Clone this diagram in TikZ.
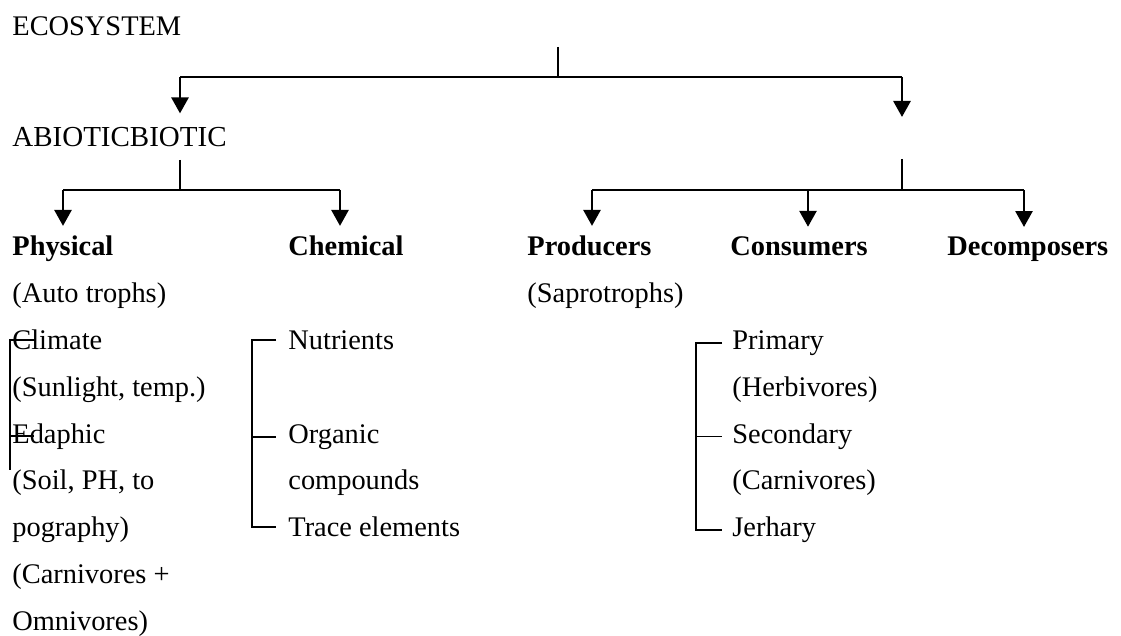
\documentclass[tikz,border=0pt]{standalone}
\usepackage{fontspec}
\setmainfont{Liberation Serif}
\usetikzlibrary{arrows.meta}
\tikzset{
  txt/.style={anchor=base west, inner sep=0pt, font=\fontsize{14.2}{17}\selectfont},
  head/.style={txt, font=\fontsize{14.2}{17}\selectfont\bfseries},
  bar/.style={line width=0.9pt},
  arr/.style={line width=1.4pt, -{Triangle[width=8.5pt,length=8pt]}},
}
\begin{document}
\begin{tikzpicture}[x=0.5pt,y=-0.5pt]
        \useasboundingbox (0,0) rectangle (1121,636);
        \node[txt] (eco) at (12,36) {ECOSYSTEM};
        \node[txt,font=\fontsize{14.5}{17}\selectfont] (abio) at (12,147) {ABIOTICBIOTIC};
        % first split
        \coordinate (ecostem) at (558,47);
        \coordinate (ecobar) at (558,77);
        \coordinate (abiarr) at (180,77);
        \coordinate (bioarr) at (902,77);
        \coordinate (biotip) at (902,117);
        \draw[bar] (ecostem) -- (ecobar);
        \draw[bar] (abiarr) -- (bioarr);
        \draw[arr, shorten >=7pt] (abiarr) -- (abiarr |- abio.north);
        \draw[arr] (bioarr) -- (biotip);
        % headings
        \node[head] (phys) at (12,256) {Physical};
        \node[head] (chem) at (288,256) {Chemical};
        \node[head] (prod) at (527,256) {Producers};
        \node[head] (cons) at (730,256) {Consumers};
        \node[head] (dec) at (947,256) {Decomposers};
        % abiotic split
        \coordinate (abstem) at (180,160);
        \coordinate (abbar) at (180,190);
        \coordinate (physbar) at (63,190);
        \coordinate (chembar) at (340,190);
        \draw[bar] (abstem) -- (abbar);
        \draw[bar] (physbar) -- (chembar);
        \foreach \n in {phys,chem}
            \draw[arr, shorten >=5pt] (\n bar) -- (\n bar |- \n.north);
        % biotic split
        \coordinate (biostem) at (902,159);
        \coordinate (biobar) at (902,190);
        \coordinate (prodbar) at (592,190);
        \coordinate (consbar) at (808,190);
        \coordinate (decbar) at (1024,190);
        \draw[bar] (biostem) -- (biobar);
        \draw[bar] (prodbar) -- (decbar);
        \foreach \n in {prod,cons,dec}
            \draw[arr, shorten >=5pt] (\n bar) -- (\n bar |- \n.north);
        % lists
        \foreach \t [count=\i] in {(Auto trophs),Climate,{(Sunlight, temp.)},Edaphic,{(Soil, PH, to},pography),{(Carnivores +},Omnivores)}
            \node[txt] (phys\i) at (12,{256+46.8*\i}) {\t};
        \foreach \t/\r in {Nutrients/2,Organic/4,compounds/5,Trace elements/6}
            \node[txt] (chem\r) at (288,{256+46.8*\r}) {\t};
        \node[txt] (prod1) at (527,302.8) {(Saprotrophs)};
        \foreach \t [count=\i from 2] in {Primary,(Herbivores),Secondary,(Carnivores),Jerhary}
            \node[txt] (cons\i) at (732,{256+46.8*\i}) {\t};
        % brackets
        \coordinate (physline) at (10,470);
        \draw[bar] ([xshift=11.5pt]phys2.west) -- (phys2.west -| physline) -- (physline);
        \draw[bar] (phys4.west -| physline) -- ([xshift=11pt]phys4.west);
        \coordinate (chemline) at (252,0);
        \draw[bar] ([xshift=-6pt]chem2.west) -- (chem2.west -| chemline) -- (chem6.west -| chemline) -- ([xshift=-6pt]chem6.west);
        \draw[bar] (chem4.west -| chemline) -- ([xshift=-6pt]chem4.west);
        \coordinate (consline) at (696,0);
        \draw[bar] ([xshift=-5pt]cons2.west) -- (cons2.west -| consline) -- (cons6.west -| consline) -- ([xshift=-5pt]cons6.west);
        \draw[bar] (cons4.west -| consline) -- ([xshift=-5pt]cons4.west);
    \end{tikzpicture}
\end{document}
